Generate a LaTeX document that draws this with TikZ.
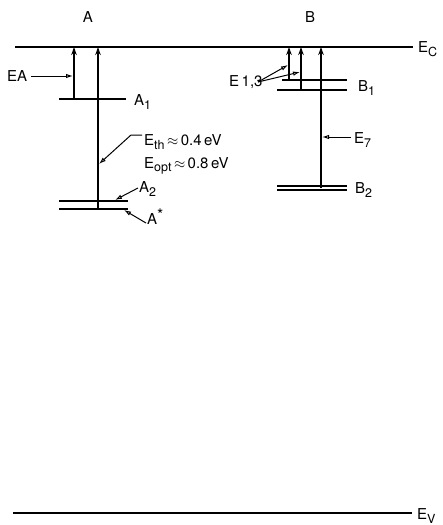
\documentclass[tikz,border=0pt]{standalone}
\usepackage{fontspec}
\setmainfont{TeX Gyre Heros}
\usetikzlibrary{arrows.meta}
\newcommand\lsub[1]{\raisebox{-0.45ex}{\fontsize{12.5}{13}\selectfont #1}}
\tikzset{
  level/.style={line width=1.5pt},
  varrow/.style={line width=1.4pt,-{Stealth[length=8pt,width=5.5pt]}},
  leader/.style={line width=1pt,-{Latex[open,length=7pt,width=4.5pt]}},
  lbl/.style={inner sep=0pt,font=\fontsize{15}{17}\selectfont},
}
\begin{document}
\begin{tikzpicture}[x=1pt,y=-1pt]
\useasboundingbox (0,0) rectangle (442,525);
% band edges
\draw[level] (15,47) coordinate (ecL) -- (413,47) coordinate (ecR);
\draw[level] (13,513) coordinate (evL) -- (412,513) coordinate (evR);
\node[lbl,anchor=west] (ec) at (418,49) {E\lsub{C}};
\node[lbl,anchor=west] (ev) at (417,516) {E\lsub{V}};
% titles
\node[lbl] (ta) at (88,17) {A};
\node[lbl] (tb) at (310,17) {B};
% A levels
\draw[level] (59,99) coordinate (a1L) -- (126,99) coordinate (a1R);
\draw[level] (59,201) coordinate (a2L) -- (128,201) coordinate (a2R);
\draw[level] (59,209) coordinate (asL) -- (128,209) coordinate (asR);
\node[lbl,anchor=west] (a1) at (134,102) {A\lsub{1}};
\node[lbl,anchor=west] (a2) at (139,189) {A\lsub{2}};
\node[lbl,anchor=west] (as) at (147,217) {A\raisebox{0.55ex}{\fontsize{16}{17}\selectfont *}};
% A transitions
\coordinate (eaB) at (74,99);
\coordinate (eaT) at (74,47);
\draw[varrow] (eaB) -- (eaT);
\coordinate (athB) at (98,209);
\coordinate (athT) at (98,47);
\draw[varrow] (athB) -- (athT);
\node[lbl,anchor=west] (ea) at (7,76) {EA};
\coordinate (eaM) at (73,76);
\draw[leader] (ea.east) ++(4,0) coordinate (eaS) -- (eaM);
\node[lbl,anchor=west] (eth) at (144,142) {E\lsub{th}\,$\approx$\,0.4\,eV};
\node[lbl,anchor=west] (eopt) at (144,166) {E\lsub{opt}\,$\approx$\,0.8\,eV};
\coordinate (ethK) at (131,135);
\coordinate (ethM) at (99,164);
\draw[leader] (142,135) coordinate (ethS) -- (ethK) -- (ethM);
\coordinate (a2M) at (115,200);
\draw[leader] (138,188) coordinate (a2S) -- (a2M);
\coordinate (asM) at (124,210);
\draw[leader] (146,223) coordinate (asS) -- (asM);
% B levels
\draw[level] (282,80) coordinate (b1aL) -- (347,80) coordinate (b1aR);
\draw[level] (277,90) coordinate (b1bL) -- (347,90) coordinate (b1bR);
\draw[level] (277,186) coordinate (b2aL) -- (347,186) coordinate (b2aR);
\draw[level] (277,190) coordinate (b2bL) -- (347,190) coordinate (b2bR);
\node[lbl,anchor=west] (b1) at (358,88) {B\lsub{1}};
\node[lbl,anchor=west] (b2) at (355,190) {B\lsub{2}};
% B transitions
\coordinate (e1B) at (289,80);
\coordinate (e1T) at (289,47);
\draw[varrow] (e1B) -- (e1T);
\coordinate (e3B) at (301,90);
\coordinate (e3T) at (301,47);
\draw[varrow] (e3B) -- (e3T);
\coordinate (e7B) at (321,188);
\coordinate (e7T) at (321,47);
\draw[varrow] (e7B) -- (e7T);
\node[lbl,anchor=west] (e13) at (229,82) {E\,1,3};
\coordinate (e13S) at (258,82);
\coordinate (e1M) at (288,65);
\coordinate (e3M) at (300,72);
\draw[leader] (e13S) -- (e1M);
\draw[leader] (e13S) -- (e3M);
\node[lbl,anchor=west] (e7) at (354,140) {E\lsub{7}};
\coordinate (e7M) at (322,137);
\draw[leader] (351,137) coordinate (e7S) -- (e7M);
\end{tikzpicture}
\end{document}
